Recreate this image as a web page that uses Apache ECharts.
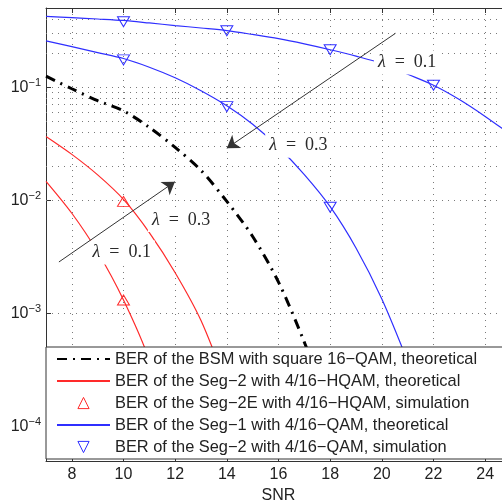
<!DOCTYPE html>
<html>
<head>
<meta charset="utf-8">
<script src="https://cdn.jsdelivr.net/npm/echarts@6/dist/echarts.min.js"></script>
<style>
  html, body { margin: 0; padding: 0; background: #fff; }
  #chart { width: 502px; height: 504px; }
</style>
</head>
<body>
<div id="chart"></div>
<script>
// SNR grid used for the theoretical curves
const snrGrid = [7, 8, 9, 10, 11, 12, 13, 14, 15, 16, 17, 18, 19, 20, 21, 22, 23, 24, 25];

// theoretical BER curves
const berBsm = [0.125, 0.0968, 0.0759, 0.0618, 0.0441, 0.0294, 0.0184, 0.0098, 0.0048, 0.0019, 0.00056, 0.00014];
const berSeg2Lam03 = [0.0367, 0.0255, 0.0168, 0.0102, 0.0052, 0.0023, 0.00087, 0.00023];
const berSeg2Lam01 = [0.01475, 0.0077, 0.0035, 0.00132, 0.00039, 0.00007];
const berSeg1Lam01 = [0.422, 0.411, 0.400, 0.388, 0.369, 0.350, 0.333, 0.316, 0.292, 0.268, 0.241, 0.214, 0.188, 0.162, 0.130, 0.104, 0.0778, 0.0552, 0.0379];
const berSeg1Lam03 = [0.256, 0.228, 0.202, 0.179, 0.150, 0.121, 0.093, 0.0685, 0.047, 0.0295, 0.0169, 0.0088, 0.0038, 0.00135, 0.00038];

// simulation markers
const simSnrHqam = [10, 10];
const simBerHqam = [0.0098, 0.00132];
const simSnrQam = [10, 14, 18, 22, 10, 14, 18];
const simBerQam = [0.378, 0.315, 0.214, 0.104, 0.174, 0.0673, 0.0087];

// lambda annotations
const lambdaText = ['0.1', '0.3', '0.1', '0.3'];
const lambdaSnr = [20.98, 16.77, 9.93, 12.23];
const lambdaBer = [0.165, 0.0304, 0.00347, 0.00671];
const arrowTail = [[20.53, 0.299], [7.5, 0.00286]];
const arrowHead = [[14.0, 0.0289], [11.99, 0.01462]];

// minor log grid lines
const minorMult = [2, 3, 4, 5, 6, 7, 8, 9];
const minorDecades = [1e-5, 1e-4, 1e-3, 1e-2, 1e-1];

const names = [
  'BER of the BSM with square 16\u2212QAM, theoretical',
  'BER of the Seg\u22122 with 4/16\u2212HQAM, theoretical',
  'BER of the Seg\u22122E with 4/16\u2212HQAM, simulation',
  'BER of the Seg\u22121 with 4/16\u2212QAM, theoretical',
  'BER of the Seg\u22122 with 4/16\u2212QAM, simulation'
];

const RED = '#ff2a2a';
const BLUE = '#2f2fff';
const FONT = 'Liberation Sans';
const DOT = { color: '#7a7a7a', width: 1, type: [1, 5] };
const downTri = 'path://M0,0 L12,0 L6,10 Z';
const upTri = 'path://M6,0 L12,10 L0,10 Z';

const pairs = (xs, ys) => ys.map((y, i) => [xs[i], y]);

const minorLines = [];
minorDecades.forEach(d => minorMult.forEach(m => {
  const v = d * m;
  if (v > 5e-5 && v < 0.5) minorLines.push({ yAxis: v });
}));

const chart = echarts.init(document.getElementById('chart'));

const option = {
  animation: false,
  backgroundColor: '#fff',
  grid: { left: 46, top: 8, width: 465, height: 453, containLabel: false, outerBoundsMode: 'none' },
  xAxis: [
    {
      type: 'value', min: 7, max: 25, splitNumber: 9,
      name: 'SNR', nameLocation: 'middle', nameGap: 22,
      nameTextStyle: { fontFamily: FONT, fontSize: 16, color: '#222' },
      axisLine: { lineStyle: { color: '#333' } },
      axisTick: { inside: true, length: 5, lineStyle: { color: '#333' } },
      axisLabel: {
        fontFamily: FONT, fontSize: 16, color: '#222', margin: 6,
        formatter: v => (v % 2 === 0 ? String(v) : '')
      },
      splitLine: { show: true, lineStyle: DOT }
    },
    {
      type: 'value', min: 7, max: 25, splitNumber: 9, position: 'top',
      axisLine: { lineStyle: { color: '#333' } },
      axisTick: { inside: true, length: 5, lineStyle: { color: '#333' } },
      axisLabel: { show: false },
      splitLine: { show: false }
    }
  ],
  yAxis: {
    type: 'log', logBase: 10, min: 5e-5, max: 0.5,
    axisLine: { show: true, lineStyle: { color: '#333' } },
    axisTick: { show: true, inside: true, length: 5, lineStyle: { color: '#333' } },
    axisLabel: {
      fontFamily: FONT, fontSize: 16, color: '#222', margin: 5, lineHeight: 20,
      formatter: v => {
        const l = Math.log10(v);
        const e = Math.round(l);
        return Math.abs(l - e) < 1e-6 ? '10{sup|\u2212' + (-e) + '}' : '';
      },
      rich: { sup: { fontFamily: FONT, fontSize: 11, color: '#222', verticalAlign: 'top', lineHeight: 11 } }
    },
    splitLine: { show: true, lineStyle: DOT }
  },
  legend: {
    orient: 'vertical', left: 46, top: 347,
    padding: [4, 120, 4, 10],
    itemGap: 6, itemWidth: 53, itemHeight: 14,
    backgroundColor: '#fff', borderColor: '#333', borderWidth: 1, borderRadius: 0,
    selectedMode: false,
    textStyle: { fontFamily: FONT, fontSize: 16.4, color: '#222' },
    data: [
      { name: names[0], itemStyle: { opacity: 0 } },
      { name: names[1], itemStyle: { opacity: 0 } },
      { name: names[2], lineStyle: { opacity: 0 }, itemStyle: { color: 'transparent', borderColor: RED, borderWidth: 1 } },
      { name: names[3], itemStyle: { opacity: 0 } },
      { name: names[4], lineStyle: { opacity: 0 }, itemStyle: { color: 'transparent', borderColor: BLUE, borderWidth: 1 } }
    ]
  },
  series: [
    {
      name: names[0], type: 'line', symbol: 'none', smooth: 0.3,
      data: pairs(snrGrid, berBsm),
      lineStyle: { color: '#000', width: 3, type: [10, 6, 2, 6] },
      itemStyle: { color: '#000' },
      markLine: {
        z: 1, silent: true, animation: false, symbol: ['none', 'none'],
        label: { show: false }, lineStyle: DOT, emphasis: { disabled: true },
        data: minorLines
      }
    },
    {
      name: names[1], type: 'line', symbol: 'none', smooth: 0.3,
      data: pairs(snrGrid, berSeg2Lam03),
      lineStyle: { color: RED, width: 1.2 }, itemStyle: { color: RED }
    },
    {
      name: names[1], type: 'line', symbol: 'none', smooth: 0.3,
      data: pairs(snrGrid, berSeg2Lam01),
      lineStyle: { color: RED, width: 1.2 }, itemStyle: { color: RED }
    },
    {
      name: names[2], type: 'line', symbol: upTri, symbolSize: [12, 10], showSymbol: true,
      data: pairs(simSnrHqam, simBerHqam),
      lineStyle: { width: 0, opacity: 0 },
      itemStyle: { color: 'transparent', borderColor: RED, borderWidth: 1 },
      markPoint: {
        z: 5, silent: true, animation: false, symbol: 'circle', symbolSize: 0,
        label: {
          show: true, position: 'inside', color: '#2a2a2a', backgroundColor: '#fff', padding: [3, 4],
          fontFamily: 'Liberation Serif', fontSize: 18,
          rich: { i: { fontFamily: 'Liberation Serif', fontSize: 18, fontStyle: 'italic', color: '#2a2a2a' } }
        },
        data: lambdaText.map((t, i) => ({
          coord: [lambdaSnr[i], lambdaBer[i]],
          label: { formatter: '{i|\u03bb}\u2002=\u2002' + t }
        }))
      }
    },
    {
      name: names[3], type: 'line', symbol: 'none', smooth: 0.3,
      data: pairs(snrGrid, berSeg1Lam01),
      lineStyle: { color: BLUE, width: 1.2 }, itemStyle: { color: BLUE }
    },
    {
      name: names[3], type: 'line', symbol: 'none', smooth: 0.3,
      data: pairs(snrGrid, berSeg1Lam03),
      lineStyle: { color: BLUE, width: 1.2 }, itemStyle: { color: BLUE }
    },
    {
      name: names[4], type: 'line', symbol: downTri, symbolSize: [12, 10], showSymbol: true,
      data: pairs(simSnrQam, simBerQam),
      lineStyle: { width: 0, opacity: 0 },
      itemStyle: { color: 'transparent', borderColor: BLUE, borderWidth: 1 },
      markLine: {
        z: 6, silent: true, animation: false,
        symbol: ['none', 'arrow'], symbolSize: 12,
        label: { show: false },
        lineStyle: { color: '#333', width: 1, type: 'solid' },
        emphasis: { disabled: true },
        data: arrowTail.map((t, i) => [{ coord: t }, { coord: arrowHead[i] }])
      }
    }
  ]
};

chart.setOption(option);
</script>
</body>
</html>
